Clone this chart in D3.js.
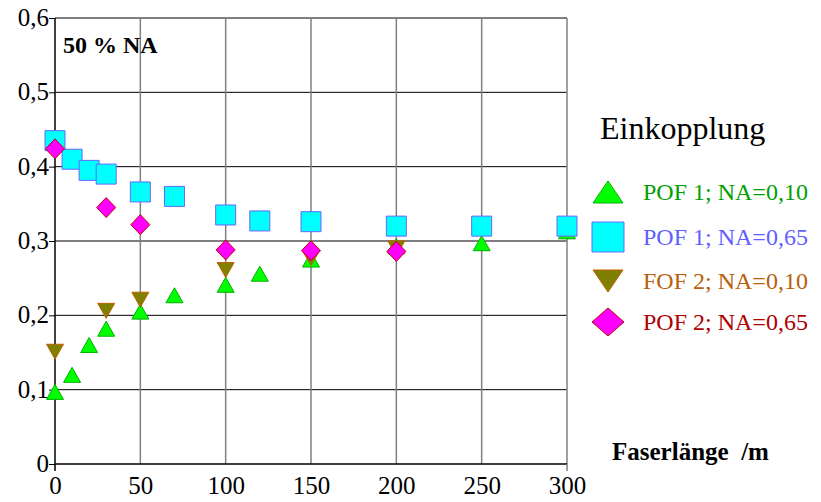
<!DOCTYPE html>
<html><head><meta charset="utf-8">
<script src="https://cdn.jsdelivr.net/npm/d3@7"></script>
<style>
body{margin:0;background:#fff;}
svg{display:block;}
svg text{font-family:"Liberation Serif","Times New Roman",serif !important;}
</style></head>
<body>
<svg id="chart" width="821" height="502"></svg>
<script>
// ---- data ----
const xTicks = [0, 50, 100, 150, 200, 250, 300];
const yTicks = [0, 0.1, 0.2, 0.3, 0.4, 0.5, 0.6];
const seriesNames = ["POF 1; NA=0,10", "POF 1; NA=0,65", "FOF 2; NA=0,10", "POF 2; NA=0,65"];
const pof1NA010X = [0, 10, 20, 30, 50, 70, 100, 120, 150, 200, 250, 300];
const pof1NA010Y = [0.097, 0.12, 0.16, 0.182, 0.205, 0.227, 0.241, 0.256, 0.275, 0.293, 0.297, 0.313];
const pof1NA065X = [0, 10, 20, 30, 50, 70, 100, 120, 150, 200, 250, 300];
const pof1NA065Y = [0.435, 0.41, 0.395, 0.39, 0.366, 0.36, 0.335, 0.327, 0.326, 0.32, 0.32, 0.32];
const fof2NA010X = [0, 30, 50, 100, 150, 200];
const fof2NA010Y = [0.151, 0.206, 0.221, 0.261, 0.277, 0.29];
const pof2NA065X = [0, 30, 50, 100, 150, 200];
const pof2NA065Y = [0.424, 0.345, 0.322, 0.288, 0.287, 0.286];

const series = [
  {name: seriesNames[0], xs: pof1NA010X, ys: pof1NA010Y, shape: "triUp",   fill: "#00ff00", stroke: "#00b000", text: "#00a000"},
  {name: seriesNames[1], xs: pof1NA065X, ys: pof1NA065Y, shape: "square",  fill: "#00ffff", stroke: "#6666ff", text: "#6060ff"},
  {name: seriesNames[2], xs: fof2NA010X, ys: fof2NA010Y, shape: "triDown", fill: "#808000", stroke: "#c06000", text: "#b8600a"},
  {name: seriesNames[3], xs: pof2NA065X, ys: pof2NA065Y, shape: "diamond", fill: "#ff00ff", stroke: "#c00000", text: "#b00000"}
];

const svg = d3.select("#chart");
const x = d3.scaleLinear().domain([0, 300]).range([55, 567]);
const y = d3.scaleLinear().domain([0, 0.6]).range([464, 18]);

function shapePath(shape, w, h) {
  const a = w / 2, b = h / 2;
  switch (shape) {
    case "triUp":   return `M0,${-b}L${a},${b}L${-a},${b}Z`;
    case "triDown": return `M${-a},${-b}L${a},${-b}L0,${b}Z`;
    case "square":  return `M${-a},${-b}L${a},${-b}L${a},${b}L${-a},${b}Z`;
    case "diamond": return `M0,${-b}L${a},0L0,${b}L${-a},0Z`;
  }
}
const plotSize = {triUp: [17, 15], triDown: [17, 15], square: [20, 20], diamond: [19, 20]};
const legSize  = {triUp: [30, 22], triDown: [30, 22], square: [32, 30], diamond: [32, 28]};

// ---- grid ----
const g = svg.append("g");
g.selectAll("line.hg").data(yTicks.filter(d => d > 0)).join("line")
  .attr("x1", x(0)).attr("x2", x(300)).attr("y1", d => y(d)).attr("y2", d => y(d))
  .attr("stroke", "#000").attr("stroke-width", 1);
g.selectAll("line.vg").data(xTicks.filter(d => d > 0)).join("line")
  .attr("x1", d => x(d)).attr("x2", d => x(d)).attr("y1", y(0.6)).attr("y2", y(0))
  .attr("stroke", "#808080").attr("stroke-width", 1.5);

// ---- axes ----
const yAxis = d3.axisLeft(y).tickValues(yTicks).tickSize(6).tickPadding(6)
  .tickFormat(d => d === 0 ? "0" : d3.format(".1f")(d).replace(".", ","));
const ya = svg.append("g").attr("transform", `translate(${x(0)},0)`).call(yAxis);
ya.select(".domain").attr("stroke", "#000").attr("stroke-width", 1.5).attr("d", `M0,${y(0.6)}V${y(0)}`);
ya.selectAll(".tick line").attr("stroke", "#000");
ya.selectAll(".tick text").attr("font-size", 25).attr("fill", "#000")
  .attr("x", -6).attr("dy", "0.3em");

const xAxis = d3.axisBottom(x).tickValues(xTicks).tickSize(0).tickPadding(10);
const xa = svg.append("g").attr("transform", `translate(0,${y(0)})`).call(xAxis);
xa.select(".domain").attr("stroke", "#000").attr("stroke-width", 1.5).attr("d", `M${x(0)},0H${x(300)}`);
xa.selectAll(".tick text").attr("font-size", 25).attr("fill", "#000")
  .attr("y", 30).attr("dy", 0);
// small tick marks at ends
svg.selectAll("line.xt").data([0, 300]).join("line")
  .attr("x1", d => x(d)).attr("x2", d => x(d)).attr("y1", y(0)).attr("y2", y(0) + 7)
  .attr("stroke", d => d === 0 ? "#000" : "#808080").attr("stroke-width", 1.5);

// ---- points ----
series.forEach(s => {
  const pts = s.xs.map((xv, i) => [xv, s.ys[i]]);
  const [w, h] = plotSize[s.shape];
  svg.append("g").selectAll("path").data(pts).join("path")
    .attr("transform", d => `translate(${x(d[0])},${y(d[1])})`)
    .attr("d", shapePath(s.shape, w, h))
    .attr("fill", s.fill).attr("stroke", s.stroke).attr("stroke-width", 1);
});

// ---- labels ----
svg.append("text").attr("x", 63).attr("y", 53).attr("font-size", 24).attr("font-weight", "bold")
  .text("50 % NA");
svg.append("text").attr("x", 612).attr("y", 460).attr("font-size", 25).attr("font-weight", "bold")
  .style("white-space", "pre").text("Faserlänge  /m");

// ---- legend ----
svg.append("text").attr("x", 600).attr("y", 139).attr("font-size", 32).text("Einkopplung");
const legY = [192, 237, 281, 322];
const leg = svg.append("g").selectAll("g").data(series).join("g")
  .attr("transform", (d, i) => `translate(0,${legY[i]})`);
leg.append("path").attr("transform", "translate(608,0)")
  .attr("d", d => shapePath(d.shape, legSize[d.shape][0], legSize[d.shape][1]))
  .attr("fill", d => d.fill).attr("stroke", d => d.stroke).attr("stroke-width", 1);
leg.append("text").attr("x", 643).attr("y", 8).attr("font-size", 24)
  .attr("fill", d => d.text).text(d => d.name);
</script>
</body></html>
